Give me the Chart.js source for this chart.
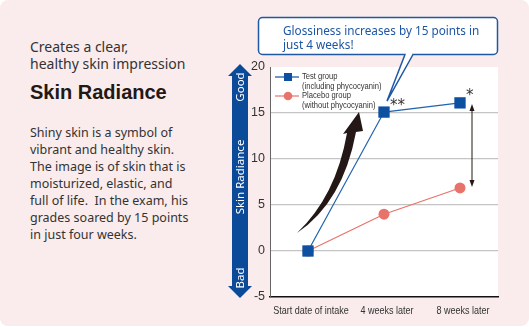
<!DOCTYPE html>
<html>
<head>
<meta charset="utf-8">
<script src="https://cdn.jsdelivr.net/npm/chart.js@4/dist/chart.umd.min.js"></script>
<style>
  html, body { margin: 0; padding: 0; background: #fff; }
  #card {
    position: relative; width: 529px; height: 326px;
    background: #faecec; border-radius: 8px; overflow: hidden;
    font-family: "Noto Sans", sans-serif; color: #333;
  }
  #chart { position: absolute; left: 0; top: 0; }
  .lead { position: absolute; left: 30px; top: 38px; font-size: 14px; line-height: 17px; }
  .title { position: absolute; left: 30px; top: 81px; font-size: 20px; font-weight: bold; color: #231815; font-family: "Liberation Sans", sans-serif; }
  .body { position: absolute; left: 30px; top: 124px; font-size: 12.5px; line-height: 17px; }
</style>
</head>
<body>
<div id="card">
  <div class="lead">Creates a clear,<br>healthy skin impression</div>
  <div class="title">Skin Radiance</div>
  <div class="body">Shiny skin is a symbol of<br>vibrant and healthy skin.<br>The image is of skin that is<br>moisturized, elastic, and<br>full of life.&nbsp; In the exam, his<br>grades soared by 15 points<br>in just four weeks.</div>
  <canvas id="chart" width="529" height="326"></canvas>
</div>
<script>
const categories = ['Start date of intake', '4 weeks later', '8 weeks later'];
const testValues = [0, 15.1, 16.1];
const placeboValues = [0, 4.0, 6.85];
const seriesNames = [['Test group', '(including phycocyanin)'], ['Placebo group', '(without phycocyanin)']];
const calloutLines = ['Glossiness increases by 15 points in', 'just 4 weeks!'];

const blue = '#0d4fa0';
const coral = '#e8736a';
const sans = '"Liberation Sans", sans-serif';

// no condensed face installed, so squeeze the text horizontally
function narrowText(ctx, text, x, y, sx) {
  ctx.save();
  ctx.translate(x, y);
  ctx.scale(sx, 1);
  ctx.fillText(text, 0, 0);
  ctx.restore();
}

const decor = {
  id: 'decor',
  beforeDraw(chart) {
    const a = chart.chartArea, ctx = chart.ctx;
    ctx.save();
    ctx.fillStyle = '#fff';
    ctx.fillRect(a.left, a.top, a.right - a.left, a.bottom - a.top);
    ctx.restore();
  },
  afterDraw(chart) {
    const ctx = chart.ctx, a = chart.chartArea;
    const x = chart.scales.x, y = chart.scales.y;
    ctx.save();

    // x labels, condensed
    ctx.font = '11px ' + sans;
    ctx.fillStyle = '#333';
    ctx.textAlign = 'center';
    ctx.textBaseline = 'middle';
    categories.forEach((c, i) => narrowText(ctx, c, x.getPixelForValue(i) + 3, a.bottom + 14, 0.82));

    // blue Good/Bad arrow
    const top = y.getPixelForValue(20) - 3, bot = y.getPixelForValue(-5) + 1;
    ctx.fillStyle = '#0b4a99';
    ctx.beginPath();
    ctx.moveTo(240, top);
    ctx.lineTo(252, top + 12);
    ctx.lineTo(248, top + 12);
    ctx.lineTo(248, bot - 12);
    ctx.lineTo(252, bot - 12);
    ctx.lineTo(240, bot);
    ctx.lineTo(228, bot - 12);
    ctx.lineTo(232, bot - 12);
    ctx.lineTo(232, top + 12);
    ctx.lineTo(228, top + 12);
    ctx.closePath();
    ctx.fill();
    ctx.fillStyle = '#fff';
    ctx.font = '11.5px "Noto Sans", sans-serif';
    [['Good', 87], ['Skin Radiance', 177], ['Bad', 278]].forEach(([t, cy]) => {
      ctx.save();
      ctx.translate(241, cy);
      ctx.rotate(-Math.PI / 2);
      ctx.fillText(t, 0, 0);
      ctx.restore();
    });

    // legend
    ctx.font = '9.5px ' + sans;
    ctx.textAlign = 'left';
    const legY = [77, 96];
    const cols = [blue, coral];
    legY.forEach((ly, i) => {
      ctx.strokeStyle = cols[i];
      ctx.lineWidth = 1.2;
      ctx.beginPath();
      ctx.moveTo(275, ly);
      ctx.lineTo(299, ly);
      ctx.stroke();
      ctx.fillStyle = cols[i];
      ctx.beginPath();
      if (i === 0) ctx.rect(284, ly - 4, 8, 8);
      else ctx.arc(288, ly, 4.3, 0, Math.PI * 2);
      ctx.fill();
      ctx.fillStyle = '#333';
      narrowText(ctx, seriesNames[i][0], 302, ly - 1, 0.8);
      narrowText(ctx, seriesNames[i][1], 302, ly + 9, 0.8);
    });

    // asterisks
    const x1 = x.getPixelForValue(1), x2 = x.getPixelForValue(2);
    ctx.font = '15px "DejaVu Sans", sans-serif';
    ctx.fillStyle = '#333';
    ctx.fillText('**', x1 + 6, y.getPixelForValue(testValues[1]) - 6);
    ctx.fillText('*', x2 + 6, y.getPixelForValue(testValues[2]) - 7);

    // double-headed arrow between groups at 8 weeks
    const ax = x2 + 12;
    const ay1 = y.getPixelForValue(testValues[2]) + 1, ay2 = y.getPixelForValue(placeboValues[2]) - 1;
    ctx.strokeStyle = '#231815';
    ctx.fillStyle = '#231815';
    ctx.lineWidth = 1;
    ctx.beginPath();
    ctx.moveTo(ax, ay1 + 4);
    ctx.lineTo(ax, ay2 - 4);
    ctx.stroke();
    ctx.beginPath();
    ctx.moveTo(ax, ay1); ctx.lineTo(ax - 2.5, ay1 + 7); ctx.lineTo(ax + 2.5, ay1 + 7); ctx.closePath();
    ctx.moveTo(ax, ay2); ctx.lineTo(ax - 2.5, ay2 - 7); ctx.lineTo(ax + 2.5, ay2 - 7); ctx.closePath();
    ctx.fill();

    // curved black arrow
    ctx.fillStyle = '#231815';
    ctx.beginPath();
    ctx.moveTo(297, 233);
    ctx.quadraticCurveTo(336, 196, 347, 133);
    ctx.lineTo(343, 134);
    ctx.lineTo(359, 112);
    ctx.lineTo(363, 131);
    ctx.lineTo(356, 132);
    ctx.quadraticCurveTo(343, 202, 297, 233);
    ctx.closePath();
    ctx.fill();

    // callout
    const tipX = x1 + 3, tipY = y.getPixelForValue(testValues[1]) - 11;
    ctx.fillStyle = '#fff';
    ctx.strokeStyle = '#1e57a4';
    ctx.lineWidth = 1.5;
    ctx.beginPath();
    ctx.roundRect(258.5, 17.5, 239, 37, 4);
    ctx.fill();
    ctx.stroke();
    ctx.beginPath();
    ctx.moveTo(405, 54.5);
    ctx.lineTo(tipX, tipY);
    ctx.lineTo(413, 54.5);
    ctx.fill();
    ctx.stroke();
    ctx.fillRect(406, 53, 6, 2);
    ctx.fillStyle = '#1d56a3';
    ctx.font = '12.5px "Noto Sans", sans-serif';
    narrowText(ctx, calloutLines[0], 283, 31, 0.94);
    narrowText(ctx, calloutLines[1], 283, 45, 0.94);

    ctx.restore();
  }
};

new Chart(document.getElementById('chart'), {
  type: 'line',
  data: {
    labels: categories,
    datasets: [
      {
        label: seriesNames[0].join(' '),
        data: testValues,
        borderColor: '#2163b0',
        backgroundColor: blue,
        borderWidth: 1.2,
        pointStyle: 'rect',
        pointRadius: 8,
        pointBorderWidth: 0
      },
      {
        label: seriesNames[1].join(' '),
        data: placeboValues,
        borderColor: coral,
        backgroundColor: coral,
        borderWidth: 1.2,
        pointStyle: 'circle',
        pointRadius: 5.5,
        pointBorderWidth: 0
      }
    ]
  },
  options: {
    responsive: false,
    animation: false,
    layout: { padding: { top: 67, right: 31, left: 0, bottom: 0 } },
    plugins: { legend: { display: false }, tooltip: { enabled: false } },
    scales: {
      x: {
        offset: true,
        grid: { display: false, drawTicks: false },
        border: { color: '#111', width: 1.5 },
        ticks: { display: false },
        afterFit(s) { s.height = 29; }
      },
      y: {
        min: -5,
        max: 20,
        ticks: { stepSize: 5, color: '#333', padding: 5, font: { family: sans, size: 12.5 } },
        grid: {
          drawTicks: false,
          color: (c) => (c.tick && (c.tick.value === 20 || c.tick.value === -5)) ? 'rgba(0,0,0,0)' : '#c4c4c4',
          lineWidth: 1.2
        },
        border: { color: '#666', width: 1 },
        afterFit(s) { s.width = 270; }
      }
    }
  },
  plugins: [decor]
});
</script>
</body>
</html>
